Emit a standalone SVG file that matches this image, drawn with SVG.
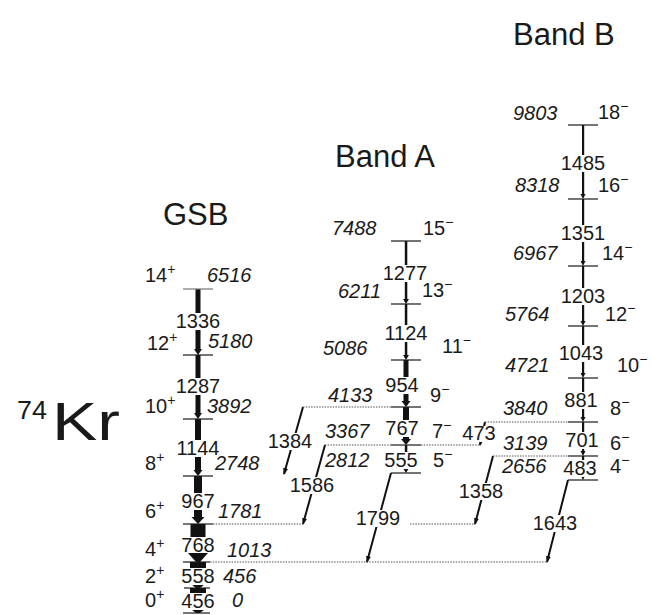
<svg xmlns="http://www.w3.org/2000/svg" width="663" height="615" viewBox="0 0 663 615">
<style>
text{font-family:"Liberation Sans",Arial,Helvetica,sans-serif;fill:#1a1a1a}
.n{font-size:20px}
.e{font-size:20px;font-style:italic}
.m{text-anchor:middle}
.sup{font-size:14px}
.ttl{font-size:31px}
.lv{stroke:#1a1a1a;stroke-width:1.2;fill:none}
.dt{stroke:#555;stroke-width:1;stroke-dasharray:1.5 1.2;fill:none}
.bar{fill:#111}
.bg{fill:#fff}
.ob{stroke:#111;stroke-width:2;fill:none;marker-end:url(#ah)}
</style>
<defs>
<marker id="ah" markerWidth="7" markerHeight="5" refX="6" refY="2.5" orient="auto" markerUnits="userSpaceOnUse"><path d="M0,0 L7,2.5 L0,5 z" fill="#111"/></marker>
</defs>
<rect width="663" height="615" fill="#fff"/>

<g id="titles">
<text class="ttl" x="163" y="225">GSB</text>
<text class="ttl" x="335" y="167">Band A</text>
<text class="ttl" x="513" y="45">Band B</text>
<text x="17" y="419" style="font-size:26px" textLength="30" lengthAdjust="spacingAndGlyphs">74</text>
<text x="52" y="440" style="font-size:54px" textLength="68" lengthAdjust="spacingAndGlyphs">Kr</text>
</g>

<g id="connectors">
<!-- GSB -->
<rect class="bar" x="195.5" y="289" width="5" height="60"/><polygon class="bar" points="194,349 202,349 198,355"/>
<rect class="bar" x="195.5" y="355" width="5" height="58"/><polygon class="bar" points="194,413 202,413 198,419"/>
<rect class="bar" x="195" y="419" width="6" height="51"/><polygon class="bar" points="193.5,470 202.5,470 198,476"/>
<rect class="bar" x="194" y="476" width="8" height="41"/><polygon class="bar" points="191.5,517 204.5,517 198,524"/>
<rect class="bar" x="190.5" y="524" width="15" height="30"/><polygon class="bar" points="188,553 208,553 200,562 196,562"/>
<rect class="bar" x="190" y="562" width="16" height="20"/><polygon class="bar" points="187,581 209,581 200,588 196,588"/>
<rect class="bar" x="190" y="588" width="16" height="19"/><polygon class="bar" points="187,606 209,606 200,613 196,613"/>
<!-- Band A -->
<rect class="bar" x="404.8" y="241" width="2.5" height="58"/><polygon class="bar" points="403,299 409,299 406,304"/>
<rect class="bar" x="404.8" y="304" width="2.5" height="51"/><polygon class="bar" points="403,355 409,355 406,360"/>
<rect class="bar" x="403.5" y="360" width="5" height="41"/><polygon class="bar" points="401.5,401 410.5,401 406,407"/>
<rect class="bar" x="403" y="407" width="6" height="32"/><polygon class="bar" points="401,439 411,439 406,445"/>
<rect class="bar" x="404.8" y="445" width="2.5" height="23"/><polygon class="bar" points="403,468 409,468 406,473"/>
<!-- Band B -->
<rect class="bar" x="582" y="125" width="2.2" height="69"/><polygon class="bar" points="580.5,194 585.5,194 583,199"/>
<rect class="bar" x="582" y="199" width="2.2" height="62"/><polygon class="bar" points="580.5,261 585.5,261 583,266"/>
<rect class="bar" x="582" y="266" width="2.2" height="55"/><polygon class="bar" points="580.5,321 585.5,321 583,326"/>
<rect class="bar" x="582" y="326" width="2.2" height="47"/><polygon class="bar" points="580.5,373 585.5,373 583,378"/>
<rect class="bar" x="582" y="378" width="2.2" height="39"/><polygon class="bar" points="580.5,417 585.5,417 583,422"/>
<rect class="bar" x="582" y="422" width="2.2" height="29"/><polygon class="bar" points="580.5,451 585.5,451 583,456"/>
<rect class="bar" x="582" y="456" width="2.2" height="19"/><polygon class="bar" points="580.5,475 585.5,475 583,480"/>
<!-- inter-band -->
<path class="ob" d="M303,407 L284,474"/>
<path class="ob" d="M325,445 L303,524"/>
<path class="ob" d="M391,473 L367,562"/>
<path class="ob" d="M493,456 L475,524"/>
<path class="ob" d="M568,480 L547,562"/>
<path class="ob" d="M485,422 L480,445"/>
<!-- label backgrounds -->
<rect class="bg" x="174" y="313" width="48" height="17"/>
<rect class="bg" x="174" y="378" width="48" height="17"/>
<rect class="bg" x="174" y="440" width="48" height="17"/>
<rect class="bg" x="180" y="493" width="36" height="17"/>
<rect class="bg" x="180" y="537" width="36" height="16"/>
<rect class="bg" x="180" y="568" width="36" height="17"/>
<rect class="bg" x="180" y="593" width="36" height="17"/>
<rect class="bg" x="381" y="265" width="48" height="17"/>
<rect class="bg" x="382" y="325" width="48" height="17"/>
<rect class="bg" x="384" y="377" width="36" height="17"/>
<rect class="bg" x="384" y="420" width="36" height="17"/>
<rect class="bg" x="383" y="452" width="36" height="17"/>
<rect class="bg" x="559" y="155" width="48" height="17"/>
<rect class="bg" x="559" y="225" width="48" height="17"/>
<rect class="bg" x="559" y="288" width="48" height="17"/>
<rect class="bg" x="557" y="345" width="48" height="17"/>
<rect class="bg" x="563" y="392" width="36" height="17"/>
<rect class="bg" x="564" y="432" width="36" height="17"/>
<rect class="bg" x="562" y="460" width="36" height="17"/>
<rect class="bg" x="266" y="433" width="48" height="17"/>
<rect class="bg" x="288" y="477" width="48" height="17"/>
<rect class="bg" x="354" y="510" width="48" height="17"/>
<rect class="bg" x="457" y="483" width="48" height="17"/>
<rect class="bg" x="531" y="515" width="48" height="17"/>
<rect class="bg" x="461" y="426" width="36" height="16"/>
<!-- labels -->
<text class="n m" x="198" y="328">1336</text>
<text class="n m" x="198" y="393">1287</text>
<text class="n m" x="198" y="455">1144</text>
<text class="n m" x="198" y="508">967</text>
<text class="n m" x="198" y="552">768</text>
<text class="n m" x="198" y="583">558</text>
<text class="n m" x="198" y="608">456</text>
<text class="n m" x="405" y="280">1277</text>
<text class="n m" x="406" y="340">1124</text>
<text class="n m" x="402" y="392">954</text>
<text class="n m" x="402" y="435">767</text>
<text class="n m" x="401" y="467">555</text>
<text class="n m" x="583" y="170">1485</text>
<text class="n m" x="583" y="240">1351</text>
<text class="n m" x="583" y="303">1203</text>
<text class="n m" x="581" y="360">1043</text>
<text class="n m" x="581" y="407">881</text>
<text class="n m" x="582" y="447">701</text>
<text class="n m" x="580" y="475">483</text>
<text class="n m" x="290" y="448">1384</text>
<text class="n m" x="312" y="492">1586</text>
<text class="n m" x="378" y="525">1799</text>
<text class="n m" x="481" y="498">1358</text>
<text class="n m" x="555" y="530">1643</text>
<text class="n m" x="479" y="440">473</text>
</g>

<!-- GSB levels -->
<g id="gsb-14"><line class="lv" x1="183" y1="289" x2="213" y2="289" style="stroke:#777"/><text class="n" x="145" y="282">14<tspan class="sup" dy="-8">+</tspan></text><text class="e" x="207" y="282">6516</text></g>
<g id="gsb-12"><line class="lv" x1="183" y1="355" x2="213" y2="355"/><text class="n" x="147" y="350">12<tspan class="sup" dy="-8">+</tspan></text><text class="e" x="208" y="348">5180</text></g>
<g id="gsb-10"><line class="lv" x1="183" y1="419" x2="213" y2="419"/><text class="n" x="145" y="413">10<tspan class="sup" dy="-8">+</tspan></text><text class="e" x="207" y="413">3892</text></g>
<g id="gsb-8"><line class="lv" x1="183" y1="476" x2="213" y2="476"/><text class="n" x="145" y="470">8<tspan class="sup" dy="-8">+</tspan></text><text class="e" x="215" y="470">2748</text></g>
<g id="gsb-6"><line class="lv" x1="183" y1="524" x2="213" y2="524"/><line class="dt" x1="213" y1="524" x2="303" y2="524"/><line class="dt" x1="410" y1="524" x2="475" y2="524"/><text class="n" x="145" y="518">6<tspan class="sup" dy="-8">+</tspan></text><text class="e" x="218" y="518">1781</text></g>
<g id="gsb-4"><line class="lv" x1="183" y1="562" x2="210" y2="562"/><line class="dt" x1="210" y1="562" x2="547" y2="562"/><text class="n" x="145" y="556">4<tspan class="sup" dy="-8">+</tspan></text><text class="e" x="227" y="557">1013</text></g>
<g id="gsb-2"><line class="lv" x1="184" y1="588" x2="210" y2="588"/><text class="n" x="145" y="583">2<tspan class="sup" dy="-8">+</tspan></text><text class="e" x="223" y="583">456</text></g>
<g id="gsb-0"><line class="lv" x1="183" y1="613" x2="210" y2="613"/><text class="n" x="145" y="607">0<tspan class="sup" dy="-8">+</tspan></text><text class="e" x="232" y="607">0</text></g>

<!-- Band A levels -->
<g id="a-15"><line class="lv" x1="391" y1="241" x2="421" y2="241"/><text class="e" x="332" y="235">7488</text><text class="n" x="423" y="235">15<tspan class="sup" dy="-8">−</tspan></text></g>
<g id="a-13"><line class="lv" x1="391" y1="304" x2="421" y2="304"/><text class="e" x="338" y="298">6211</text><text class="n" x="422" y="297">13<tspan class="sup" dy="-8">−</tspan></text></g>
<g id="a-11"><line class="lv" x1="391" y1="360" x2="421" y2="360"/><text class="e" x="323" y="355">5086</text><text class="n" x="442" y="353">11<tspan class="sup" dy="-8">−</tspan></text></g>
<g id="a-9"><line class="lv" x1="391" y1="407" x2="421" y2="407"/><line class="dt" x1="303" y1="407" x2="391" y2="407"/><text class="e" x="328" y="402">4133</text><text class="n" x="430" y="402">9<tspan class="sup" dy="-8">−</tspan></text></g>
<g id="a-7"><line class="lv" x1="391" y1="445" x2="421" y2="445"/><line class="dt" x1="325" y1="445" x2="391" y2="445"/><line class="dt" x1="421" y1="445" x2="480" y2="445"/><text class="e" x="325" y="438">3367</text><text class="n" x="432" y="438">7<tspan class="sup" dy="-8">−</tspan></text></g>
<g id="a-5"><line class="lv" x1="391" y1="473" x2="421" y2="473"/><text class="e" x="325" y="467">2812</text><text class="n" x="433" y="467">5<tspan class="sup" dy="-8">−</tspan></text></g>

<!-- Band B levels -->
<g id="b-18"><line class="lv" x1="568" y1="125" x2="598" y2="125"/><text class="e" x="513" y="120">9803</text><text class="n" x="598" y="119">18<tspan class="sup" dy="-8">−</tspan></text></g>
<g id="b-16"><line class="lv" x1="568" y1="199" x2="598" y2="199"/><text class="e" x="515" y="192">8318</text><text class="n" x="598" y="192">16<tspan class="sup" dy="-8">−</tspan></text></g>
<g id="b-14"><line class="lv" x1="568" y1="266" x2="598" y2="266"/><text class="e" x="513" y="260">6967</text><text class="n" x="602" y="260">14<tspan class="sup" dy="-8">−</tspan></text></g>
<g id="b-12"><line class="lv" x1="568" y1="326" x2="598" y2="326"/><text class="e" x="505" y="321">5764</text><text class="n" x="605" y="321">12<tspan class="sup" dy="-8">−</tspan></text></g>
<g id="b-10"><line class="lv" x1="568" y1="378" x2="598" y2="378"/><text class="e" x="505" y="372">4721</text><text class="n" x="617" y="372">10<tspan class="sup" dy="-8">−</tspan></text></g>
<g id="b-8"><line class="lv" x1="568" y1="422" x2="598" y2="422"/><line class="dt" x1="485" y1="422" x2="568" y2="422"/><text class="e" x="503" y="415">3840</text><text class="n" x="610" y="415">8<tspan class="sup" dy="-8">−</tspan></text></g>
<g id="b-6"><line class="lv" x1="568" y1="456" x2="598" y2="456"/><line class="dt" x1="493" y1="456" x2="568" y2="456"/><text class="e" x="503" y="450">3139</text><text class="n" x="610" y="450">6<tspan class="sup" dy="-8">−</tspan></text></g>
<g id="b-4"><line class="lv" x1="568" y1="480" x2="598" y2="480"/><text class="e" x="502" y="473">2656</text><text class="n" x="610" y="473">4<tspan class="sup" dy="-8">−</tspan></text></g>
</svg>
